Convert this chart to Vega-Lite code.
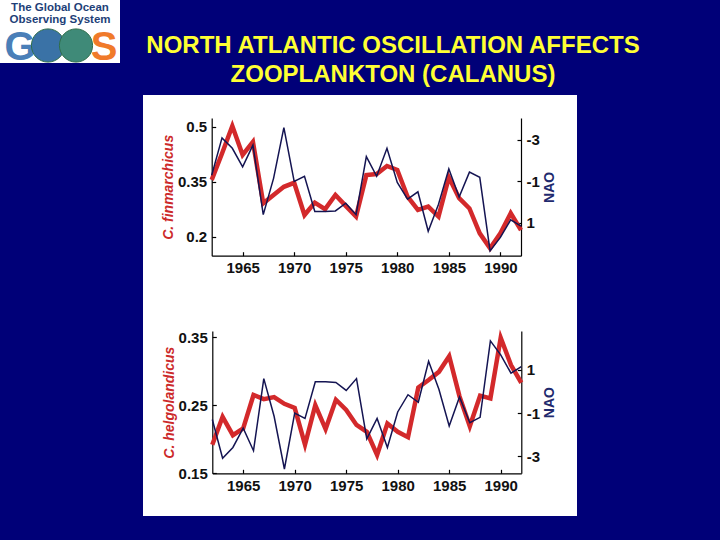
{
  "$schema": "https://vega.github.io/schema/vega-lite/v6.json",
  "background": "#000078",
  "padding": {"left": 0, "top": 0, "right": 77, "bottom": 24},
  "config": {
    "view": {"fill": "white", "stroke": null},
    "axis": {"grid": false, "domainColor": "black", "tickColor": "black", "labelColor": "#111111", "labelFont": "Liberation Sans", "labelFontWeight": "bold", "labelFontSize": 15, "titleFont": "Liberation Sans", "titleFontWeight": "bold", "titleFontSize": 14, "domainWidth": 1.2, "tickWidth": 1.2, "tickSize": -4, "labelPadding": 9}
  },
  "datasets": {
    "calanus": [
      {"year": 1962, "fin": 0.355, "hel": 0.192, "nao": -1.3},
      {"year": 1963, "fin": 0.427, "hel": 0.233, "nao": -3.1},
      {"year": 1964, "fin": 0.502, "hel": 0.206, "nao": -2.6},
      {"year": 1965, "fin": 0.423, "hel": 0.216, "nao": -1.7},
      {"year": 1966, "fin": 0.459, "hel": 0.265, "nao": -2.75},
      {"year": 1967, "fin": 0.291, "hel": 0.259, "nao": 0.6},
      {"year": 1968, "fin": 0.314, "hel": 0.262, "nao": -1.15},
      {"year": 1969, "fin": 0.336, "hel": 0.252, "nao": -3.6},
      {"year": 1970, "fin": 0.347, "hel": 0.246, "nao": -1.0},
      {"year": 1971, "fin": 0.259, "hel": 0.192, "nao": -1.25},
      {"year": 1972, "fin": 0.293, "hel": 0.25, "nao": 0.45},
      {"year": 1973, "fin": 0.275, "hel": 0.215, "nao": 0.45},
      {"year": 1974, "fin": 0.314, "hel": 0.258, "nao": 0.42},
      {"year": 1975, "fin": 0.284, "hel": 0.243, "nao": 0.05},
      {"year": 1976, "fin": 0.255, "hel": 0.221, "nao": 0.6},
      {"year": 1977, "fin": 0.368, "hel": 0.211, "nao": -2.2},
      {"year": 1978, "fin": 0.371, "hel": 0.177, "nao": -1.25},
      {"year": 1979, "fin": 0.393, "hel": 0.223, "nao": -2.6},
      {"year": 1980, "fin": 0.382, "hel": 0.211, "nao": -0.95},
      {"year": 1981, "fin": 0.309, "hel": 0.203, "nao": -0.15},
      {"year": 1982, "fin": 0.273, "hel": 0.276, "nao": -0.5},
      {"year": 1983, "fin": 0.282, "hel": 0.287, "nao": 1.4},
      {"year": 1984, "fin": 0.255, "hel": 0.299, "nao": 0.1},
      {"year": 1985, "fin": 0.362, "hel": 0.322, "nao": -1.6},
      {"year": 1986, "fin": 0.305, "hel": 0.263, "nao": -0.25},
      {"year": 1987, "fin": 0.277, "hel": 0.219, "nao": -1.45},
      {"year": 1988, "fin": 0.209, "hel": 0.264, "nao": -1.2},
      {"year": 1989, "fin": 0.168, "hel": 0.26, "nao": 2.35},
      {"year": 1990, "fin": 0.209, "hel": 0.349, "nao": 1.7},
      {"year": 1991, "fin": 0.264, "hel": 0.309, "nao": 0.85},
      {"year": 1992, "fin": 0.218, "hel": 0.283, "nao": 1.15}
    ],
    "titleLines": [
      {"t": "NORTH ATLANTIC OSCILLATION AFFECTS"},
      {"t": "ZOOPLANKTON (CALANUS)"}
    ],
    "logoText": [
      {"line": "The Global Ocean"},
      {"line": "Observing System"}
    ],
    "logoParts": [
      {"part": "G", "n": 1, "line": "GOOS"},
      {"part": "globe1", "n": 2, "line": "GOOS"},
      {"part": "globe2", "n": 3, "line": "GOOS"},
      {"part": "S", "n": 4, "line": "GOOS"}
    ]
  },
  "spacing": 23,
  "hconcat": [
    {
      "width": 120,
      "height": 63,
      "layer": [
        {
          "data": {"name": "logoText"},
          "mark": {"type": "text", "font": "Liberation Sans", "fontWeight": "bold", "fontSize": 11.5, "color": "#1e3f78", "baseline": "middle"},
          "encoding": {
            "y": {"field": "line", "type": "ordinal", "scale": {"type": "point", "domain": ["The Global Ocean", "Observing System", " ", "GOOS"], "range": [7.5, 45.5], "padding": 0}, "axis": null},
            "text": {"field": "line"}
          }
        },
        {
          "data": {"name": "logoParts"},
          "transform": [{"filter": "datum.part == 'G'"}],
          "mark": {"type": "text", "font": "Liberation Sans", "fontWeight": "bold", "fontSize": 40, "baseline": "middle", "dy": 2},
          "encoding": {
            "x": {"field": "n", "type": "ordinal", "scale": {"type": "point", "domain": [1, 2, 3, 4], "range": [20, 104], "padding": 0}, "axis": null},
            "y": {"field": "line", "type": "ordinal", "axis": null},
            "text": {"field": "part"},
            "color": {"field": "part", "type": "nominal", "scale": {"domain": ["G", "globe1", "globe2", "S"], "range": ["#4a7fb8", "#3a72a6", "#3f8a78", "#f07a2a"]}, "legend": null}
          }
        },
        {
          "data": {"name": "logoParts"},
          "transform": [{"filter": "datum.part == 'globe1' || datum.part == 'globe2'"}],
          "mark": {"type": "point", "shape": "circle", "filled": true, "size": 1100, "opacity": 1, "stroke": "#2f6e4a", "strokeWidth": 1},
          "encoding": {
            "x": {"field": "n", "type": "ordinal", "axis": null},
            "y": {"field": "line", "type": "ordinal", "axis": null},
            "color": {"field": "part", "type": "nominal", "legend": null}
          }
        },
        {
          "data": {"name": "logoParts"},
          "transform": [{"filter": "datum.part == 'S'"}],
          "mark": {"type": "text", "font": "Liberation Sans", "fontWeight": "bold", "fontSize": 40, "baseline": "middle", "dy": 2},
          "encoding": {
            "x": {"field": "n", "type": "ordinal", "axis": null},
            "y": {"field": "line", "type": "ordinal", "axis": null},
            "text": {"field": "part"},
            "color": {"field": "part", "type": "nominal", "legend": null}
          }
        }
      ]
    },
    {
      "spacing": 0,
      "vconcat": [
        {
          "width": 500,
          "height": 95,
          "view": {"fill": "transparent", "stroke": null},
          "data": {"name": "titleLines"},
          "mark": {"type": "text", "font": "Liberation Sans", "fontWeight": "bold", "fontSize": 24, "color": "#ffff33", "baseline": "middle"},
          "encoding": {
            "y": {"field": "t", "type": "ordinal", "scale": {"type": "point", "domain": ["NORTH ATLANTIC OSCILLATION AFFECTS", "ZOOPLANKTON (CALANUS)"], "range": [45.5, 74.5], "padding": 0}, "axis": null},
            "text": {"field": "t"}
          }
        },
        {
          "width": 434,
          "height": 205,
          "data": {"name": "calanus"},
          "layer": [
            {
              "mark": {"type": "line", "color": "#d3292b", "strokeWidth": 4.5},
              "encoding": {
                "x": {"field": "year", "type": "quantitative", "scale": {"domain": [1962, 1992], "range": [68.7, 378], "nice": false, "zero": false},
                  "axis": {"values": [1965, 1970, 1975, 1980, 1985, 1990], "format": "d", "title": null, "offset": -44.3}},
                "y": {"field": "fin", "type": "quantitative", "scale": {"domain": [0.148, 0.524], "range": [160.7, 23], "nice": false, "zero": false},
                  "axis": {"values": [0.2, 0.35, 0.5], "labelExpr": "'' + datum.value", "offset": -68.7, "title": "C. finmarchicus", "titleFontStyle": "italic", "titleColor": "#cc2a2a", "titlePadding": 2}}
              }
            },
            {
              "mark": {"type": "line", "color": "#141452", "strokeWidth": 1.5},
              "encoding": {
                "x": {"field": "year", "type": "quantitative"},
                "y": {"field": "nao", "type": "quantitative", "scale": {"domain": [-4.06, 2.58], "range": [23, 160.7], "nice": false, "zero": false},
                  "axis": {"orient": "right", "values": [-3, -1, 1], "labelExpr": "'' + datum.value", "offset": -56, "title": "NAO", "titleColor": "#1f2a6e", "titleAngle": 270, "titleBaseline": "top", "titlePadding": 3}}
              }
            }
          ],
          "resolve": {"scale": {"y": "independent"}, "axis": {"y": "independent"}}
        },
        {
          "width": 434,
          "height": 216,
          "data": {"name": "calanus"},
          "layer": [
            {
              "mark": {"type": "line", "color": "#d3292b", "strokeWidth": 4.5},
              "encoding": {
                "x": {"field": "year", "type": "quantitative", "scale": {"domain": [1962, 1992], "range": [69.3, 378.3], "nice": false, "zero": false},
                  "axis": {"values": [1965, 1970, 1975, 1980, 1985, 1990], "format": "d", "title": null, "offset": -42.7}},
                "y": {"field": "hel", "type": "quantitative", "scale": {"domain": [0.15, 0.359], "range": [173.3, 31], "nice": false, "zero": false},
                  "axis": {"values": [0.15, 0.25, 0.35], "labelExpr": "'' + datum.value", "offset": -69.3, "title": "C. helgolandicus", "titleFontStyle": "italic", "titleColor": "#cc2a2a", "titlePadding": 2}}
              }
            },
            {
              "mark": {"type": "line", "color": "#141452", "strokeWidth": 1.5},
              "encoding": {
                "x": {"field": "year", "type": "quantitative"},
                "y": {"field": "nao", "type": "quantitative", "scale": {"domain": [-3.8, 2.81], "range": [173.3, 31], "nice": false, "zero": false},
                  "axis": {"orient": "right", "values": [-3, -1, 1], "labelExpr": "'' + datum.value", "offset": -55.7, "title": "NAO", "titleColor": "#1f2a6e", "titleAngle": 270, "titleBaseline": "top", "titlePadding": 3}}
              }
            }
          ],
          "resolve": {"scale": {"y": "independent"}, "axis": {"y": "independent"}}
        }
      ]
    }
  ]
}
